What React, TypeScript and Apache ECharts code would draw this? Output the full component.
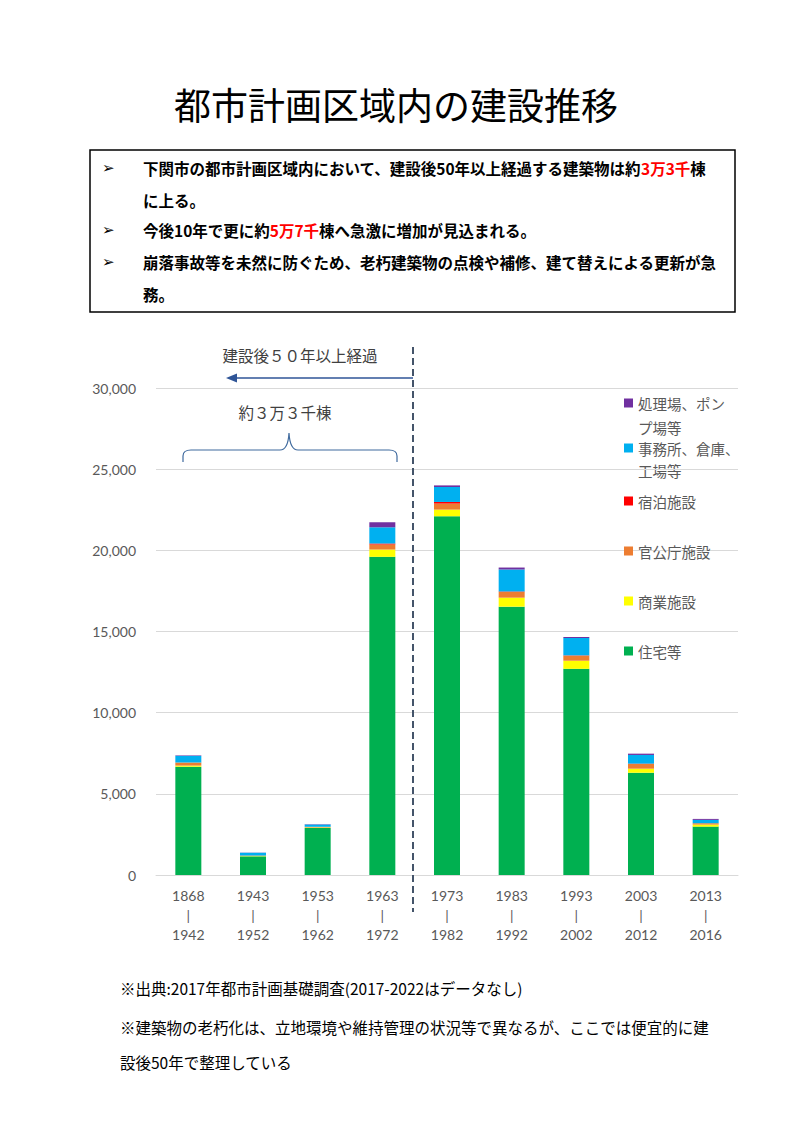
import React, { useEffect, useRef } from 'react';
import * as echarts from 'echarts';

const categories = [
  '1868\n|\n1942', '1943\n|\n1952', '1953\n|\n1962', '1963\n|\n1972', '1973\n|\n1982',
  '1983\n|\n1992', '1993\n|\n2002', '2003\n|\n2012', '2013\n|\n2016',
];
const seriesNames = ['住宅等', '商業施設', '官公庁施設', '宿泊施設', '事務所、倉庫、工場等', '処理場、ポンプ場等'];
const housing = [6670, 1150, 2900, 19600, 22100, 16530, 12700, 6300, 2980];
const commercial = [70, 20, 30, 450, 410, 555, 500, 250, 125];
const government = [190, 30, 40, 310, 370, 350, 310, 290, 85];
const lodging = [0, 0, 0, 60, 100, 30, 20, 20, 0];
const office = [410, 170, 140, 1000, 920, 1355, 1070, 535, 205];
const plant = [30, 10, 20, 310, 100, 120, 60, 80, 60];
const seriesColors = ['#00B050', '#FFFF00', '#ED7D31', '#FF0000', '#00B0F0', '#7030A0'];
const yMin = 0;
const yMax = 30000;
const yInterval = 5000;

const titleText = '都市計画区域内の建設推移';
const boxLines = [
  { bullet: true, rich: '下関市の都市計画区域内において、建設後50年以上経過する建築物は約{r|3万3千}棟' },
  { bullet: false, rich: 'に上る。' },
  { bullet: true, rich: '今後10年で更に約{r|5万7千}棟へ急激に増加が見込まれる。' },
  { bullet: true, rich: '崩落事故等を未然に防ぐため、老朽建築物の点検や補修、建て替えによる更新が急' },
  { bullet: false, rich: '務。' },
];
const footnotes = [
  '※出典:2017年都市計画基礎調査(2017-2022はデータなし)',
  '※建築物の老朽化は、立地環境や維持管理の状況等で異なるが、ここでは便宜的に建',
  '設後50年で整理している',
];
const annoOver50 = '建設後５０年以上経過';
const annoCount = '約３万３千棟';

// legend rows: first visual line shown in the legend, wrapped remainder drawn below
const legendItems = [
  { name: '処理場、ポンプ場等', line1: '処理場、ポン', line2: 'プ場等', gap: 24, y: 403 },
  { name: '事務所、倉庫、工場等', line1: '事務所、倉庫、', line2: '工場等', gap: 22, y: 448 },
  { name: '宿泊施設', line1: '宿泊施設', line2: '', gap: 0, y: 501 },
  { name: '官公庁施設', line1: '官公庁施設', line2: '', gap: 0, y: 551 },
  { name: '商業施設', line1: '商業施設', line2: '', gap: 0, y: 601 },
  { name: '住宅等', line1: '住宅等', line2: '', gap: 0, y: 651 },
];

const CJK = '"Noto Sans CJK JP", "Noto Sans", sans-serif';
const NUM = 'Lato, "Liberation Sans", sans-serif';

let braceRegistered = false;

export default function App() {
  const ref = useRef<HTMLDivElement>(null);

  useEffect(() => {
    if (!ref.current) return;
    if (!braceRegistered) {
      const d =
        'M183,462 L183,456 Q183,450 191,450 L280,450 Q288,450 289,433 Q290,450 298,450 L389,450 Q397,450 397,456 L397,462';
      echarts.graphic.registerShape('brace', echarts.graphic.extendPath(d, {}));
      braceRegistered = true;
    }
    const chart = echarts.init(ref.current, undefined, { renderer: 'svg' });

    const data = [housing, commercial, government, lodging, office, plant];
    const series = seriesNames.map((name, i) => ({
      name,
      type: 'bar',
      stack: 'total',
      barWidth: 26,
      itemStyle: { color: seriesColors[i] },
      data: data[i],
    }));

    const legendFont = 14.5;
    const legends = legendItems.map((it) => ({
      data: [it.name],
      left: 624,
      top: it.y - 7.5,
      padding: 0,
      itemWidth: 9,
      itemHeight: 9,
      icon: 'rect',
      selectedMode: false,
      formatter: () => it.line1,
      textStyle: { fontFamily: CJK, fontSize: legendFont, color: '#595959', lineHeight: 15 },
    }));

    const graphics: any[] = [];
    legendItems.forEach((it) => {
      if (it.line2) {
        graphics.push({
          type: 'text',
          x: 638,
          y: it.y + it.gap,
          style: {
            text: it.line2,
            font: `normal ${legendFont}px ${CJK}`,
            fill: '#595959',
            lineHeight: 15,
            verticalAlign: 'middle',
          },
        });
      }
    });
    graphics.push({
      type: 'text',
      x: 396,
      y: 104,
      style: { text: titleText, font: `normal 37px ${CJK}`, fill: '#000', align: 'center', verticalAlign: 'middle' },
    });
    graphics.push({
      type: 'rect',
      shape: { x: 90, y: 150, width: 645, height: 162 },
      style: { fill: 'none', stroke: '#000', lineWidth: 1.5 },
    });
    const lineYs = [168, 200, 230, 262, 294];
    boxLines.forEach((ln, i) => {
      if (ln.bullet) {
        graphics.push({
          type: 'text',
          x: 102,
          y: lineYs[i],
          style: { text: '➢', font: `bold 15px "DejaVu Sans", ${CJK}`, fill: '#000', verticalAlign: 'middle' },
        });
      }
      graphics.push({
        type: 'text',
        x: 143,
        y: lineYs[i],
        style: {
          text: ln.rich,
          font: `bold 15.5px ${CJK}`,
          fill: '#000',
          verticalAlign: 'middle',
          rich: { r: { fill: '#FF0000', font: `bold 15.5px ${CJK}` } },
        },
      });
    });
    // annotations
    graphics.push({
      type: 'text',
      x: 300,
      y: 355,
      style: { text: annoOver50, font: `normal 15.5px ${CJK}`, fill: '#404040', align: 'center', verticalAlign: 'middle' },
    });
    graphics.push({
      type: 'line',
      shape: { x1: 413, y1: 378, x2: 234, y2: 378 },
      style: { stroke: '#2F5597', lineWidth: 1.5 },
    });
    graphics.push({
      type: 'polygon',
      shape: { points: [[226, 378], [237, 373.5], [237, 382.5]] },
      style: { fill: '#2F5597' },
    });
    graphics.push({
      type: 'text',
      x: 285,
      y: 412,
      style: { text: annoCount, font: `normal 15.5px ${CJK}`, fill: '#404040', align: 'center', verticalAlign: 'middle' },
    });
    graphics.push({
      type: 'brace',
      x: 0,
      y: 0,
      scaleX: 1,
      scaleY: 1,
      style: { fill: 'none', stroke: '#3F6A9E', lineWidth: 1.2 },
    });
    graphics.push({
      type: 'line',
      z: 10,
      shape: { x1: 413, y1: 347, x2: 413, y2: 912 },
      style: { stroke: '#44546A', lineWidth: 2, lineDash: [7, 4] },
    });
    const footYs = [988, 1027, 1062];
    footnotes.forEach((t, i) => {
      graphics.push({
        type: 'text',
        x: 120,
        y: footYs[i],
        style: { text: t, font: `normal 15.5px ${CJK}`, fill: '#000', verticalAlign: 'middle' },
      });
    });

    chart.setOption({
      animation: false,
      backgroundColor: '#fff',
      grid: { left: 156, right: 55, top: 388, bottom: 247, containLabel: false },
      xAxis: {
        type: 'category',
        data: categories,
        axisLine: { lineStyle: { color: '#D9D9D9', width: 1 } },
        axisTick: { show: false },
        axisLabel: { fontFamily: NUM, fontSize: 14, color: '#595959', lineHeight: 19.5, margin: 11, interval: 0 },
      },
      yAxis: {
        type: 'value',
        min: yMin,
        max: yMax,
        interval: yInterval,
        axisLine: { show: false },
        axisTick: { show: false },
        splitLine: { lineStyle: { color: '#D9D9D9', width: 1 } },
        axisLabel: {
          fontFamily: NUM,
          fontSize: 14,
          color: '#595959',
          margin: 20,
          formatter: (v: number) => v.toLocaleString('en-US'),
        },
      },
      legend: legends,
      series,
      graphic: graphics,
    });

    return () => chart.dispose();
  }, []);

  return (
    <div
      ref={ref}
      style={{ position: 'absolute', left: 0, top: 0, width: 793, height: 1122, background: '#fff' }}
    />
  );
}
